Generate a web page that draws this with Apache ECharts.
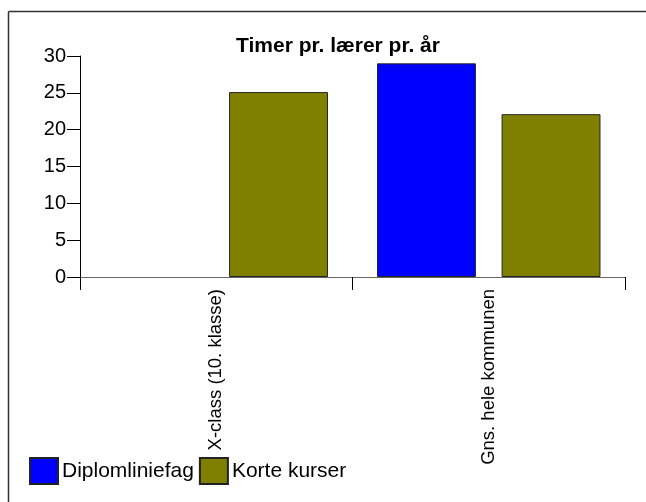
<!DOCTYPE html>
<html>
<head>
<meta charset="utf-8">
<script src="https://cdn.jsdelivr.net/npm/echarts@6/dist/echarts.min.js"></script>
<style>
    html, body { margin: 0; padding: 0; background: #fff; }
    #chart { width: 646px; height: 502px; }
</style>
</head>
<body>
<div id="chart"></div>
<script>
// data
var categories = ['X-class (10. klasse)', 'Gns. hele kommunen'];
var diplomValues = [null, 29.0];
var korteValues = [25.1, 22.1];
var seriesNames = ['Diplomliniefag', 'Korte kurser'];

var font = 'Liberation Sans, Arial, sans-serif';

var option = {
    backgroundColor: '#fff',
    animation: false,
    title: {
        text: 'Timer pr. lærer pr. år',
        left: 333,
        textAlign: 'center',
        top: 31,
        textStyle: { fontFamily: font, fontSize: 21, fontWeight: 'bold', color: '#000' }
    },
    legend: {
        left: 29,
        top: 457,
        itemWidth: 28,
        itemHeight: 26,
        itemGap: 5,
        icon: 'rect',
        padding: 0,
        data: seriesNames,
        textStyle: { fontFamily: font, fontSize: 21, color: '#000', padding: [0, 0, 0, -1] }
    },
    grid: { left: 80, right: 21, top: 56, bottom: 225 },
    xAxis: {
        type: 'category',
        data: categories,
        axisLine: { lineStyle: { color: '#666', width: 1 } },
        axisTick: { show: true, length: 13, lineStyle: { color: '#000' } },
        axisLabel: {
            rotate: 90,
            margin: 12,
            fontFamily: font,
            fontSize: 18.5,
            color: '#000'
        }
    },
    yAxis: {
        type: 'value',
        min: 0,
        max: 30,
        interval: 5,
        splitLine: { show: false },
        axisLine: { show: true, lineStyle: { color: '#000' } },
        axisTick: { show: true, length: 13, lineStyle: { color: '#000' } },
        axisLabel: { margin: 14, fontFamily: font, fontSize: 20, color: '#000' }
    },
    series: [{
        name: seriesNames[0],
        type: 'bar',
        data: diplomValues,
        barGap: '26%',
        barCategoryGap: '18%',
        itemStyle: { color: '#0000ff', borderColor: '#222', borderWidth: 1 }
    }, {
        name: seriesNames[1],
        type: 'bar',
        data: korteValues,
        itemStyle: { color: '#808000', borderColor: '#222', borderWidth: 1 }
    }],
    // frame: only top and left edges are visible
    graphic: [{
        type: 'line',
        silent: true,
        shape: { x1: 8.5, y1: 11.5, x2: 646, y2: 11.5 },
        style: { stroke: '#333', lineWidth: 1.5 }
    }, {
        type: 'line',
        silent: true,
        shape: { x1: 8.5, y1: 11.5, x2: 8.5, y2: 502 },
        style: { stroke: '#333', lineWidth: 1.5 }
    }]
};

var myChart = echarts.init(document.getElementById('chart'));
myChart.setOption(option);
</script>
</body>
</html>
